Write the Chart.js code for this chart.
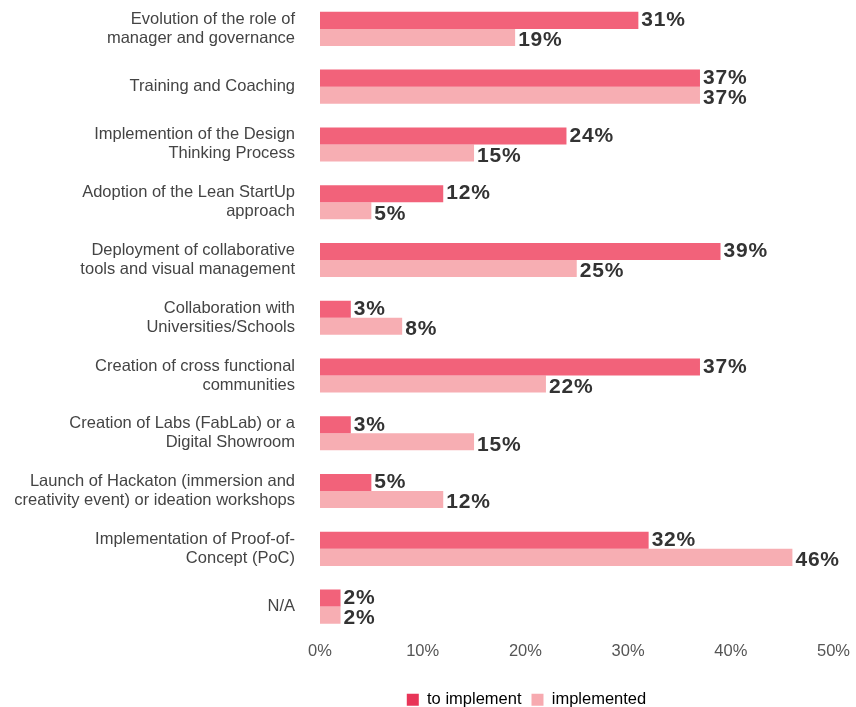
<!DOCTYPE html>
<html>
<head>
<meta charset="utf-8">
<script src="https://cdn.jsdelivr.net/npm/chart.js@4/dist/chart.umd.min.js"></script>
<style>
html,body{margin:0;padding:0;background:#fff;}
#wrap{width:856px;height:707px;position:relative;}
</style>
</head>
<body>
<div id="wrap"><canvas id="c" width="856" height="707"></canvas></div>
<script>
const categories = [
  ["Evolution of the role of", "manager and governance"],
  "Training and Coaching",
  ["Implemention of the Design", "Thinking Process"],
  ["Adoption of the Lean StartUp", "approach"],
  ["Deployment of collaborative", "tools and visual management"],
  ["Collaboration with", "Universities/Schools"],
  ["Creation of cross functional", "communities"],
  ["Creation of Labs (FabLab) or a", "Digital Showroom"],
  ["Launch of Hackaton (immersion and", "creativity event) or ideation workshops"],
  ["Implementation of Proof-of-", "Concept (PoC)"],
  "N/A"
];
const toImplement = [31, 37, 24, 12, 39, 3, 37, 3, 5, 32, 2];
const implemented = [19, 37, 15, 5, 25, 8, 22, 15, 12, 46, 2];
const seriesNames = ["to implement", "implemented"];
const xTicks = [0, 10, 20, 30, 40, 50];

const barColors = ["#f2627a", "#f7aeb3"];
const legendColors = ["#e83558", "#f7aab0"];
const FONT = '"Liberation Sans", Arial, Helvetica, sans-serif';

const valueLabels = {
  id: 'valueLabels',
  afterDatasetsDraw(chart) {
    const ctx = chart.ctx;
    ctx.save();
    ctx.font = 'bold 21px ' + FONT;
    try { ctx.letterSpacing = '0.8px'; } catch (e) {}
    ctx.fillStyle = '#333333';
    ctx.textAlign = 'left';
    ctx.textBaseline = 'middle';
    chart.data.datasets.forEach((ds, di) => {
      const meta = chart.getDatasetMeta(di);
      meta.data.forEach((bar, i) => {
        ctx.fillText(ds.data[i] + '%', bar.x + 3, bar.y + (di === 0 ? 0 : 3));
      });
    });
    ctx.restore();
  }
};

const shiftLegend = {
  id: 'shiftLegend',
  afterLayout(chart) {
    const lg = chart.legend;
    if (lg) { lg.left += 108; lg.right += 108; lg.top += 11; lg.bottom += 11; }
  }
};

new Chart(document.getElementById('c'), {
  type: 'bar',
  data: {
    labels: categories,
    datasets: [
      { label: seriesNames[0], data: toImplement, backgroundColor: barColors[0], barPercentage: 1, categoryPercentage: 0.59 },
      { label: seriesNames[1], data: implemented, backgroundColor: barColors[1], barPercentage: 1, categoryPercentage: 0.59 }
    ]
  },
  options: {
    indexAxis: 'y',
    responsive: false,
    animation: false,
    layout: { padding: { left: 0, right: 19, top: 0, bottom: 0 } },
    scales: {
      y: {
        grid: { display: false, drawTicks: false },
        border: { display: false },
        ticks: {
          color: '#444444',
          font: { family: FONT, size: 16.5, lineHeight: 1.15 },
          padding: 25,
          autoSkip: false
        },
        afterFit(scale) { scale.width = 320; scale.paddingTop = 0; scale.paddingBottom = 0; }
      },
      x: {
        min: 0, max: 50,
        grid: { display: false, drawTicks: false },
        border: { display: false },
        afterBuildTicks(scale) { scale.ticks = xTicks.map(v => ({ value: v })); },
        ticks: {
          color: '#555555',
          font: { family: FONT, size: 16.5 },
          padding: 6,
          callback: v => v + '%'
        },
        afterFit(scale) { scale.height = 35; }
      }
    },
    plugins: {
      legend: {
        position: 'bottom',
        labels: {
          color: '#444444',
          font: { family: FONT, size: 16.5 },
          boxWidth: 12, boxHeight: 12, padding: 10,
          generateLabels(chart) {
            return chart.data.datasets.map((ds, i) => ({
              text: ds.label, fillStyle: legendColors[i], strokeStyle: legendColors[i],
              lineWidth: 0, datasetIndex: i, hidden: false
            }));
          }
        }
      },
      tooltip: { enabled: false }
    }
  },
  plugins: [valueLabels, shiftLegend]
});
</script>
</body>
</html>
